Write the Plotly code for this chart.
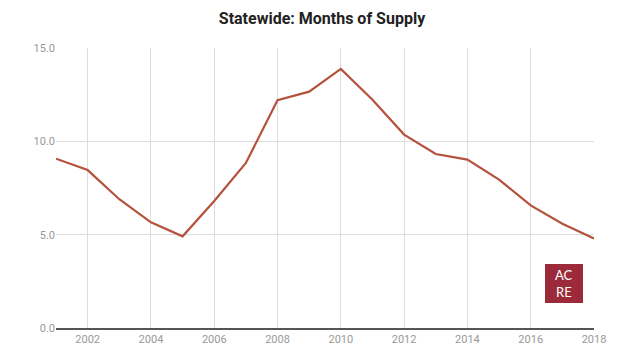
import plotly.graph_objects as go

years = list(range(2001, 2019))
months_supply = [9.07, 8.46, 6.9, 5.66, 4.91, 6.8, 8.84, 12.2, 12.66, 13.88,
                 12.23, 10.36, 9.32, 9.02, 7.95, 6.57, 5.59, 4.80]
x_ticks = list(range(2002, 2019, 2))
y_ticks = [0, 5, 10, 15]

# page has 8px body margin; figure sized to fill remaining area
W, H = 632, 350
L, R, T, B = 48, 46, 40, 30
pw, ph = W - L - R, H - T - B

fig = go.Figure()
fig.add_trace(go.Scatter(x=years, y=months_supply, mode="lines",
                         line=dict(color="#b5523d", width=2.2), showlegend=False))

fig.update_layout(
    width=W, height=H,
    margin=dict(l=L, r=R, t=T, b=B),
    paper_bgcolor="white", plot_bgcolor="white",
    title=dict(text="<b>Statewide: Months of Supply</b>", x=(322 - 8) / W, xanchor="center",
               y=1 - (18 - 8) / H, yanchor="middle",
               font=dict(family="Roboto", size=16, color="#222222")),
    font=dict(family="Roboto", size=11, color="#777777"),
)
fig.update_xaxes(range=[2001, 2018], tickvals=x_ticks, ticktext=[str(t) for t in x_ticks],
                 showgrid=True, gridcolor="#dddddd", gridwidth=1, zeroline=False,
                 showline=True, linecolor="#555555", linewidth=1.5, mirror=False,
                 ticks="", tickfont=dict(size=11, color="#999999"))
fig.update_yaxes(range=[0, 15], tickvals=y_ticks, tickformat=".1f",
                 showgrid=True, gridcolor="#dddddd", gridwidth=1, zeroline=False,
                 showline=False, ticks="", ticklen=6,
                 tickfont=dict(size=11, color="#999999"))

# ACRE logo (reference page coords -> paper coords)
def px(x):
    return (x - 8 - L) / pw

def py(y):
    return (H - B - (y - 8)) / ph

fig.add_shape(type="rect", xref="paper", yref="paper",
              x0=px(545), x1=px(583), y0=py(303), y1=py(264),
              fillcolor="#9b2b3b", line=dict(width=0))
fig.add_annotation(xref="paper", yref="paper", x=px(564), y=py(275),
                   text="AC", showarrow=False, xanchor="center", yanchor="middle",
                   font=dict(family="Lato", size=13, color="white"))
fig.add_annotation(xref="paper", yref="paper", x=px(564), y=py(292),
                   text="RE", showarrow=False, xanchor="center", yanchor="middle",
                   font=dict(family="Lato", size=13, color="white"))

fig.write_html("out.html")
